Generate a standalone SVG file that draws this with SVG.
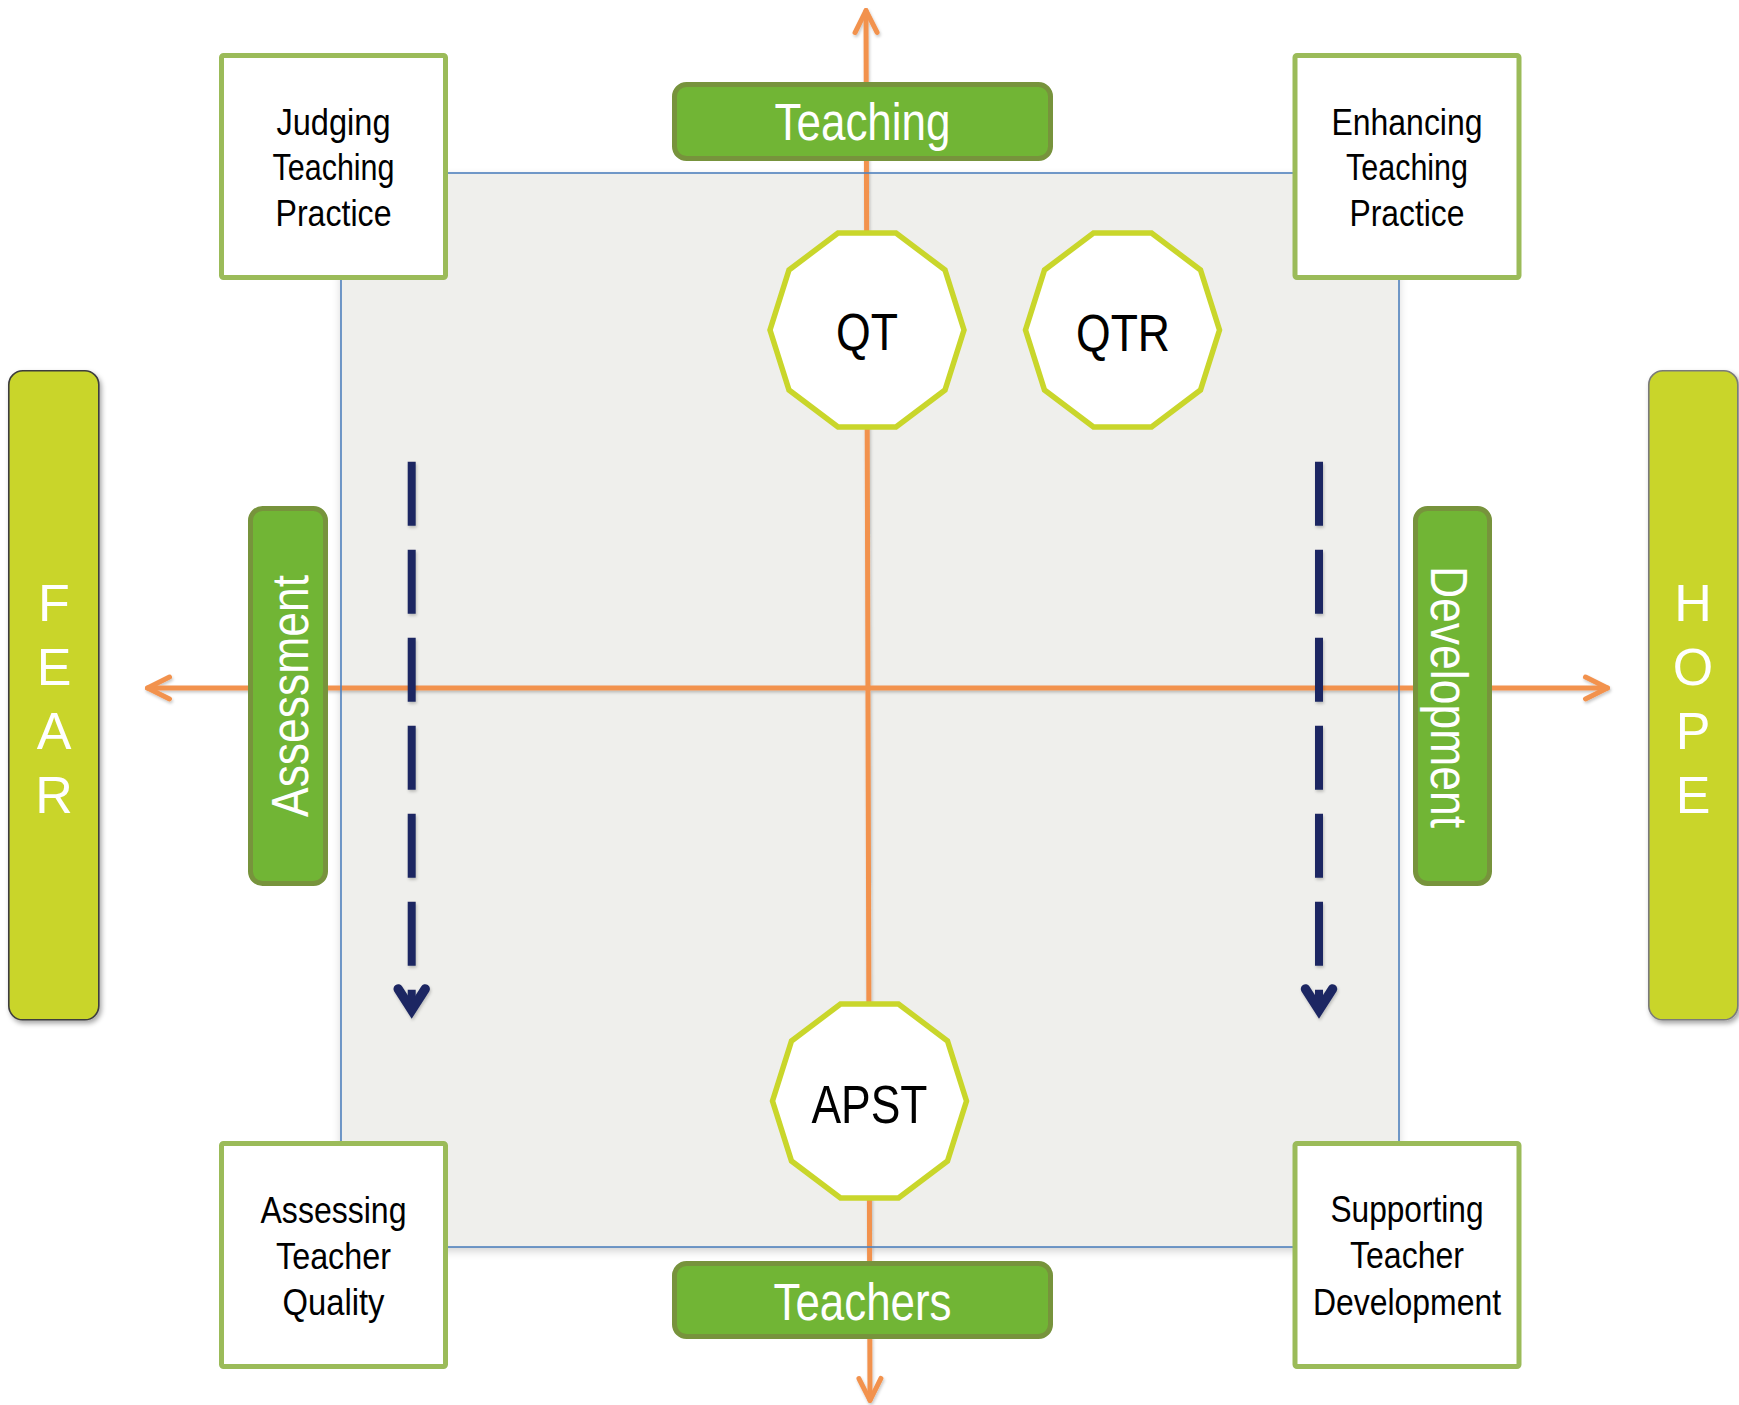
<svg xmlns="http://www.w3.org/2000/svg" width="1739" height="1405" viewBox="0 0 1739 1405">
  <style>
    .n { font-family: "Liberation Sans Narrow", "Liberation Sans", Arial, sans-serif; }
    .corner { fill: #FFFFFF; stroke: #9BBB59; stroke-width: 5; }
    .corner-txt { font-size: 36px; fill: #000000; text-anchor: middle; }
    .label { fill: #71B535; stroke: #77933C; stroke-width: 5; }
    .label-txt { font-size: 51px; fill: #FFFFFF; text-anchor: middle; }
    .deca { fill: #FFFFFF; stroke: #C9D62B; stroke-width: 5.5; stroke-linejoin: miter; }
    .deca-txt { font-size: 51px; fill: #000000; text-anchor: middle; }
    .pole { fill: #C9D52B; stroke-width: 1.6; }
    .pole-txt { font-size: 52px; fill: #FFFFFF; text-anchor: middle; }
    .axis { stroke: #F2924E; stroke-width: 5; fill: none; stroke-linecap: round; }
    .flow { stroke: #1E2862; stroke-width: 8; fill: none; stroke-dasharray: 64 24; }
  </style>
  <defs>
    <filter id="poleShadow" x="-20%" y="-5%" width="150%" height="115%">
      <feDropShadow dx="2" dy="3" stdDeviation="2.5" flood-color="#000000" flood-opacity="0.35"/>
    </filter>
    <filter id="areaShadow" x="-5%" y="-5%" width="110%" height="110%">
      <feDropShadow dx="0" dy="4" stdDeviation="4" flood-color="#000000" flood-opacity="0.18"/>
    </filter>
    <filter id="lineShadow" x="-10%" y="-10%" width="120%" height="120%">
      <feDropShadow dx="1" dy="2" stdDeviation="1.5" flood-color="#000000" flood-opacity="0.22"/>
    </filter>
    <marker id="orangeHead" markerUnits="userSpaceOnUse" markerWidth="40" markerHeight="40" viewBox="-30 -20 40 40" refX="0" refY="0" orient="auto-start-reverse" overflow="visible">
      <path d="M-22,-11 L0,0 L-22,11" fill="none" stroke="#F2924E" stroke-width="5" stroke-linecap="round" stroke-linejoin="round"/>
    </marker>
    <marker id="navyHead" markerUnits="userSpaceOnUse" markerWidth="50" markerHeight="50" viewBox="-30 -25 50 50" refX="0" refY="0" orient="auto" overflow="visible">
      <path d="M-21,-13.5 L0,0 L-21,13.5" fill="none" stroke="#1E2862" stroke-width="9.5" stroke-linecap="round" stroke-linejoin="miter"/>
    </marker>
  </defs>

  <!-- central field -->
  <rect id="field" x="341" y="173" width="1058" height="1074" fill="#EFEFEC" filter="url(#areaShadow)"/>

  <!-- connectors: axes, field border, downward flows -->
  <g id="connectors">
    <g filter="url(#lineShadow)">
      <line class="axis" x1="866" y1="10.5" x2="870" y2="1400.5" marker-start="url(#orangeHead)" marker-end="url(#orangeHead)"/>
      <line class="axis" x1="147.5" y1="688" x2="1607.5" y2="688" marker-start="url(#orangeHead)" marker-end="url(#orangeHead)"/>
    </g>
    <rect x="341" y="173" width="1058" height="1074" fill="none" stroke="#4F81BD" stroke-width="1.6"/>
    <g filter="url(#lineShadow)">
      <line class="flow" x1="411.7" y1="461.7" x2="411.7" y2="1010" marker-end="url(#navyHead)"/>
      <line class="flow" x1="1319" y1="461.7" x2="1319" y2="1010" marker-end="url(#navyHead)"/>
    </g>
  </g>

  <!-- corner statements -->
  <g id="judging">
    <rect class="corner" x="221.5" y="55.5" width="224" height="222" rx="2"/>
    <text class="n corner-txt" x="333.5" y="135" textLength="114" lengthAdjust="spacingAndGlyphs">Judging</text>
    <text class="n corner-txt" x="333.5" y="180" textLength="122" lengthAdjust="spacingAndGlyphs">Teaching</text>
    <text class="n corner-txt" x="333.5" y="226" textLength="116" lengthAdjust="spacingAndGlyphs">Practice</text>
  </g>
  <g id="enhancing">
    <rect class="corner" x="1295" y="55.5" width="224" height="222" rx="2"/>
    <text class="n corner-txt" x="1407" y="135" textLength="151" lengthAdjust="spacingAndGlyphs">Enhancing</text>
    <text class="n corner-txt" x="1407" y="180" textLength="122" lengthAdjust="spacingAndGlyphs">Teaching</text>
    <text class="n corner-txt" x="1407" y="226" textLength="115" lengthAdjust="spacingAndGlyphs">Practice</text>
  </g>
  <g id="assessing">
    <rect class="corner" x="221.5" y="1143.5" width="224" height="223" rx="2"/>
    <text class="n corner-txt" x="333.5" y="1223" textLength="146" lengthAdjust="spacingAndGlyphs">Assessing</text>
    <text class="n corner-txt" x="333.5" y="1269" textLength="115" lengthAdjust="spacingAndGlyphs">Teacher</text>
    <text class="n corner-txt" x="333.5" y="1315" textLength="102" lengthAdjust="spacingAndGlyphs">Quality</text>
  </g>
  <g id="supporting">
    <rect class="corner" x="1295" y="1143.5" width="224" height="223" rx="2"/>
    <text class="n corner-txt" x="1407" y="1222" textLength="153" lengthAdjust="spacingAndGlyphs">Supporting</text>
    <text class="n corner-txt" x="1407" y="1268" textLength="114" lengthAdjust="spacingAndGlyphs">Teacher</text>
    <text class="n corner-txt" x="1407" y="1315" textLength="188" lengthAdjust="spacingAndGlyphs">Development</text>
  </g>

  <!-- axis labels -->
  <g id="teaching">
    <rect class="label" x="674.5" y="84.5" width="376" height="74" rx="12"/>
    <text class="n label-txt" x="862.5" y="140" textLength="176" lengthAdjust="spacingAndGlyphs">Teaching</text>
  </g>
  <g id="teachers">
    <rect class="label" x="674.5" y="1263.5" width="376" height="73" rx="12"/>
    <text class="n label-txt" x="862.5" y="1320" textLength="178" lengthAdjust="spacingAndGlyphs">Teachers</text>
  </g>
  <g id="assessment">
    <rect class="label" x="250.5" y="508.5" width="75" height="375" rx="12"/>
    <text class="n label-txt" transform="translate(308,696) rotate(-90)" x="0" y="0" textLength="242" lengthAdjust="spacingAndGlyphs">Assessment</text>
  </g>
  <g id="development">
    <rect class="label" x="1415.5" y="508.5" width="74" height="375" rx="12"/>
    <text class="n label-txt" transform="translate(1431,697) rotate(90)" x="0" y="0" textLength="262" lengthAdjust="spacingAndGlyphs">Development</text>
  </g>

  <!-- standards -->
  <g id="qt">
    <polygon class="deca" points="838,233 896,233 945,270 964,330 945,390 896,427 838,427 789,390 770,330 789,270"/>
    <text class="n deca-txt" x="867" y="350" textLength="62" lengthAdjust="spacingAndGlyphs">QT</text>
  </g>
  <g id="qtr">
    <polygon class="deca" points="1093.5,233 1151.5,233 1200.5,270 1219.5,330 1200.5,390 1151.5,427 1093.5,427 1044.5,390 1025.5,330 1044.5,270"/>
    <text class="n deca-txt" x="1123" y="351" textLength="94" lengthAdjust="spacingAndGlyphs">QTR</text>
  </g>
  <g id="apst">
    <polygon class="deca" points="840.5,1004 898.5,1004 947.5,1041 966.5,1101 947.5,1161 898.5,1198 840.5,1198 791.5,1161 772.5,1101 791.5,1041"/>
    <text class="n deca-txt" x="869.5" y="1122.5" style="font-size:54px" textLength="116" lengthAdjust="spacingAndGlyphs">APST</text>
  </g>

  <!-- poles -->
  <g id="fear">
    <rect class="pole" x="8.8" y="370.8" width="90" height="649" rx="14" stroke="#3C3C3C" filter="url(#poleShadow)"/>
    <text class="n pole-txt" x="54" y="621">F</text>
    <text class="n pole-txt" x="54" y="685">E</text>
    <text class="n pole-txt" x="54" y="749">A</text>
    <text class="n pole-txt" x="54" y="813">R</text>
  </g>
  <g id="hope">
    <rect class="pole" x="1648.8" y="370.8" width="89" height="649" rx="14" stroke="#7A7A7A" filter="url(#poleShadow)"/>
    <text class="n pole-txt" x="1693" y="621">H</text>
    <text class="n pole-txt" x="1693" y="685">O</text>
    <text class="n pole-txt" x="1693" y="749">P</text>
    <text class="n pole-txt" x="1693" y="813">E</text>
  </g>
</svg>
